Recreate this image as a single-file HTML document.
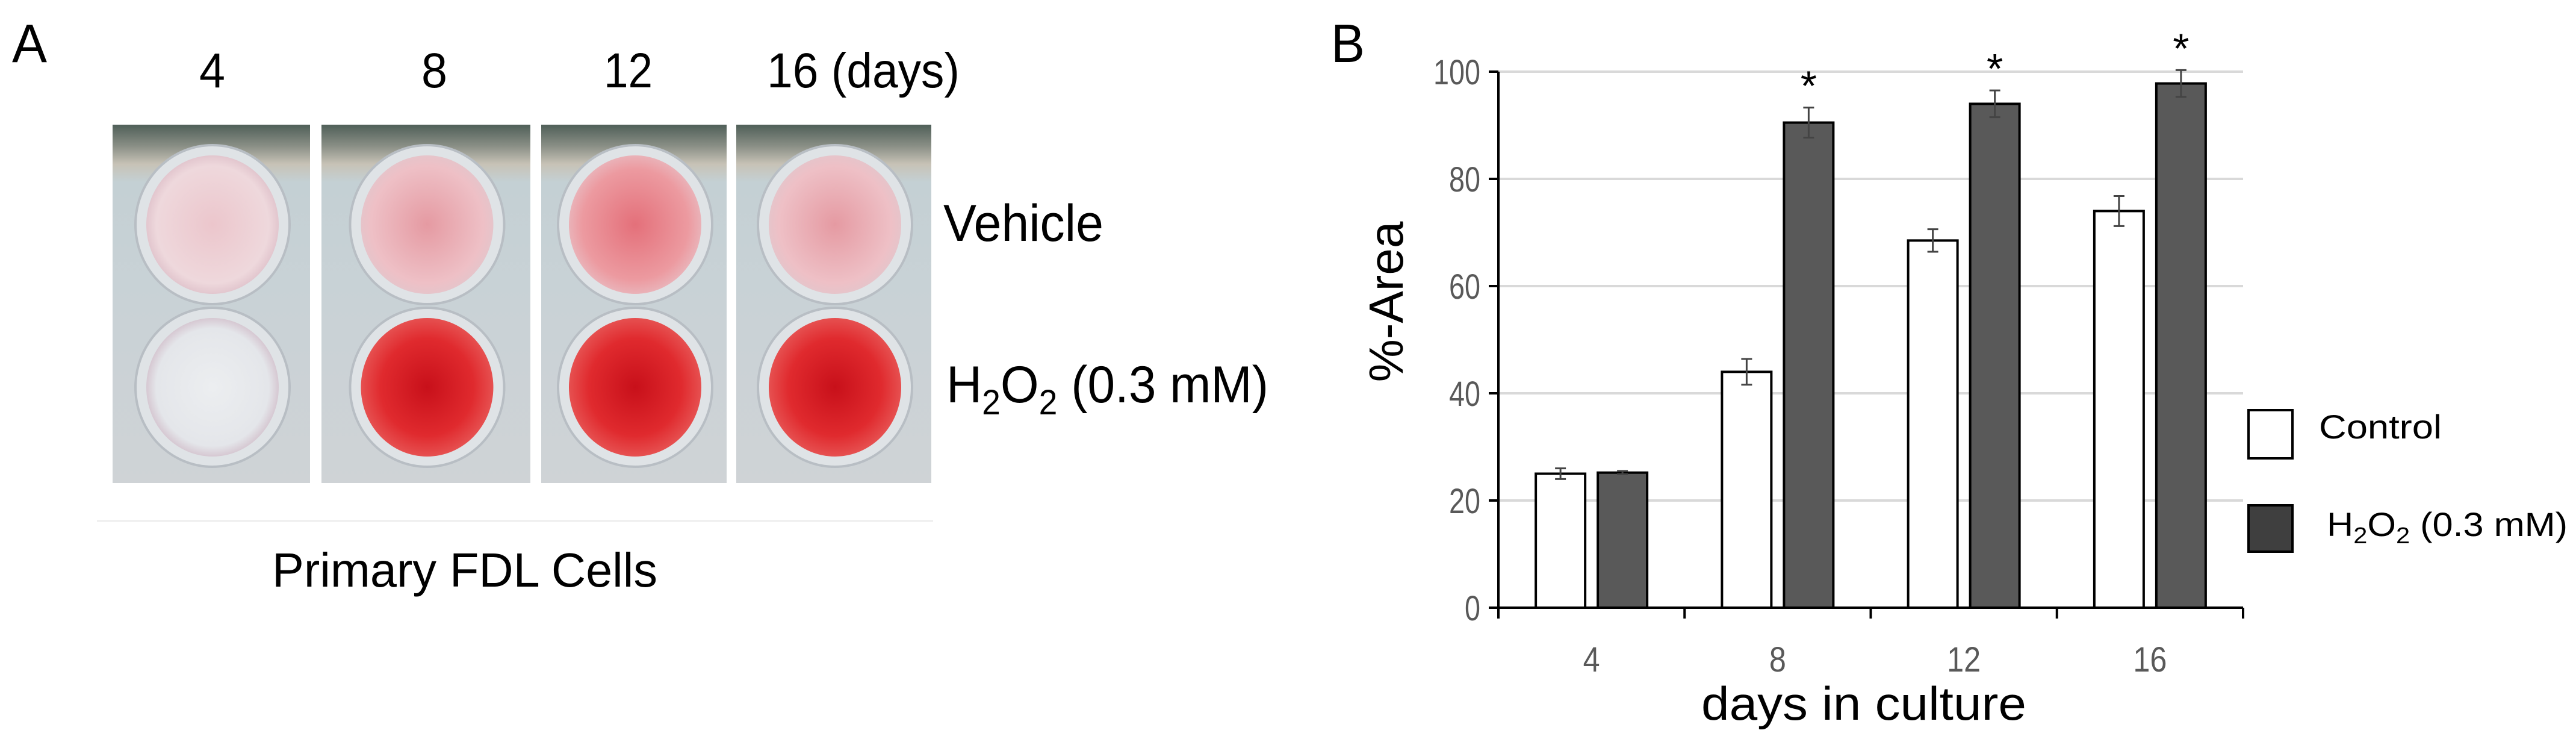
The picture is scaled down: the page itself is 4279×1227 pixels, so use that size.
<!DOCTYPE html>
<html><head><meta charset="utf-8">
<style>
html,body{margin:0;padding:0;background:#fff;}
svg{display:block;}
text{font-family:"Liberation Sans",sans-serif;}
</style></head>
<body>
<svg id="fig" width="4279" height="1227" viewBox="0 0 4279 1227" xmlns="http://www.w3.org/2000/svg">
<defs>
  <linearGradient id="plateBg" x1="0" y1="0" x2="0" y2="1">
    <stop offset="0" stop-color="#4f5f58"/>
    <stop offset="0.06" stop-color="#8a8f86"/>
    <stop offset="0.11" stop-color="#c7c2b6"/>
    <stop offset="0.16" stop-color="#c4d0d4"/>
    <stop offset="0.5" stop-color="#c9d2d6"/>
    <stop offset="1" stop-color="#cfd3d6"/>
  </linearGradient>
  <radialGradient id="wellEmpty" cx="0.5" cy="0.5" r="0.5">
    <stop offset="0" stop-color="#eceef0"/><stop offset="0.85" stop-color="#e4e6ea"/><stop offset="1" stop-color="#d6c8d2"/>
  </radialGradient>
  <radialGradient id="wellLight" cx="0.5" cy="0.5" r="0.5">
    <stop offset="0" stop-color="#ecc6cc"/><stop offset="0.85" stop-color="#eed8dc"/><stop offset="1" stop-color="#e2c6ce"/>
  </radialGradient>
  <radialGradient id="wellMed" cx="0.5" cy="0.5" r="0.5">
    <stop offset="0" stop-color="#e4707a"/><stop offset="0.8" stop-color="#ec9aa0"/><stop offset="1" stop-color="#eab2b8"/>
  </radialGradient>
  <radialGradient id="wellMed2" cx="0.5" cy="0.5" r="0.5">
    <stop offset="0" stop-color="#e59aa2"/><stop offset="0.85" stop-color="#eec0c6"/><stop offset="1" stop-color="#e6c4ca"/>
  </radialGradient>
  <radialGradient id="wellRed" cx="0.5" cy="0.5" r="0.5">
    <stop offset="0" stop-color="#c8101a"/><stop offset="0.7" stop-color="#e02a2e"/><stop offset="1" stop-color="#e65050"/>
  </radialGradient>
</defs>

<!-- Panel A -->
<text x="20" y="103" font-size="90" textLength="58" lengthAdjust="spacingAndGlyphs" fill="#000">A</text>
<g font-size="82" fill="#000">
  <text x="331" y="145" textLength="43" lengthAdjust="spacingAndGlyphs">4</text>
  <text x="700" y="145" textLength="43" lengthAdjust="spacingAndGlyphs">8</text>
  <text x="1003" y="145" textLength="81" lengthAdjust="spacingAndGlyphs">12</text>
  <text x="1274" y="145" textLength="320" lengthAdjust="spacingAndGlyphs">16 (days)</text>
</g>
<g id="plates"></g>
<text x="1567" y="400" font-size="86" textLength="266" lengthAdjust="spacingAndGlyphs">Vehicle</text>
<text x="1572" y="668" font-size="86" textLength="535" lengthAdjust="spacingAndGlyphs">H<tspan font-size="58" dy="20">2</tspan><tspan dy="-20">O</tspan><tspan font-size="58" dy="20">2</tspan><tspan dy="-20"> (0.3 mM)</tspan></text>
<line x1="161" y1="865" x2="1550" y2="865" stroke="#eeeeee" stroke-width="3"/>
<text x="452" y="974" font-size="80" textLength="640" lengthAdjust="spacingAndGlyphs">Primary FDL Cells</text>

<!-- Panel B -->
<text x="2211" y="103" font-size="90" textLength="56" lengthAdjust="spacingAndGlyphs" fill="#000">B</text>
<g id="chart"></g>
<text transform="translate(2330,501) rotate(-90)" font-size="80" text-anchor="middle" fill="#000">%-Area</text>
<text x="3096" y="1195" font-size="78" text-anchor="middle" textLength="540" lengthAdjust="spacingAndGlyphs" fill="#000">days in culture</text>
<g>
  <rect x="3735" y="681" width="73" height="80" fill="#fff" stroke="#000" stroke-width="4"/>
  <text x="3852" y="728" font-size="56" textLength="204" lengthAdjust="spacingAndGlyphs">Control</text>
  <rect x="3735" y="839" width="73" height="77" fill="#3f3f3f" stroke="#000" stroke-width="4"/>
  <text x="3865" y="890" font-size="56" textLength="400" lengthAdjust="spacingAndGlyphs">H<tspan font-size="38" dy="12">2</tspan><tspan dy="-12">O</tspan><tspan font-size="38" dy="12">2</tspan><tspan dy="-12"> (0.3 mM)</tspan></text>
</g>
</svg>
<script>
const categories = ["4","8","12","16"];
const controlValues = [25, 44, 68.5, 74];
const controlErrors = [1, 2.4, 2.1, 2.8];
const h2o2Values = [25.2, 90.5, 94, 97.8];
const h2o2Errors = [0.3, 2.8, 2.5, 2.5];
const significant = [false, true, true, true];
const yTicks = [0, 20, 40, 60, 80, 100];

const NS = "http://www.w3.org/2000/svg";
function mk(tag, attrs, parent){const e=document.createElementNS(NS,tag);for(const k in attrs)e.setAttribute(k,attrs[k]);parent.appendChild(e);return e;}

// plates
const plates = document.getElementById('plates');
const panels = [[187,515],[534,881],[899,1207],[1223,1547]];
const topFill = ["wellLight","wellMed2","wellMed","wellMed2"];
const botFill = ["wellEmpty","wellRed","wellRed","wellRed"];
panels.forEach((p,i)=>{
  const g = mk('g',{},plates);
  
  
  mk('rect',{x:p[0],y:207,width:p[1]-p[0],height:595,fill:'url(#plateBg)'},g);
  const cx = (p[0]+p[1])/2 + 2;
  [[373,topFill[i],'top'],[643,botFill[i],'bottom']].forEach(w=>{
    mk('ellipse',{cx:cx,cy:w[0],rx:128,ry:132,fill:'#dfe3e6',stroke:'#b8bec4','stroke-width':4},g);
    const well = mk('ellipse',{cx:cx,cy:w[0],rx:110,ry:115,fill:'url(#'+w[1]+')'},g);
    
    
  });
});

// chart
const chart = document.getElementById('chart');
const X0 = 2489, X1 = 3726, Y0 = 1009, Y100 = 119;
const catW = (X1-X0)/categories.length;
const yScale = v => Y0 - (Y0-Y100)*v/100;
const xCat = i => X0 + catW*i;
const barW = 82, gap = 21;

yTicks.forEach(t=>{
  const y = yScale(t);
  if(t>0){
    const gl = mk('line',{x1:X0,x2:X1,y1:y,y2:y,stroke:'#d9d9d9','stroke-width':4},chart);
    
    
  }
  mk('line',{x1:X0-16,x2:X0,y1:y,y2:y,stroke:'#000','stroke-width':4},chart);
  const tl = mk('text',{x:X0-30,y:y+21,'font-size':58,'text-anchor':'end',fill:'#595959',textLength:String(t).length*26,lengthAdjust:'spacingAndGlyphs'},chart);
  tl.textContent = t;
  
  
});

function bar(x,v,e,fill,name){
  const y = yScale(v);
  const r = mk('rect',{x:x,y:y,width:barW,height:Y0-y,fill:fill,stroke:'#000','stroke-width':4},chart);
  
  
  const cx = x+barW/2, yt = yScale(v+e), yb = yScale(v-e);
  const eb = mk('path',{d:`M${cx},${yt}V${yb}M${cx-9},${yt}H${cx+9}M${cx-9},${yb}H${cx+9}`,stroke:'#444','stroke-width':3,fill:'none'},chart);
  
  
  return yt;
}
categories.forEach((c,i)=>{
  const mid = xCat(i)+catW/2;
  bar(mid-gap/2-barW, controlValues[i], controlErrors[i], '#fff', 'bar-control-'+c);
  const yt = bar(mid+gap/2, h2o2Values[i], h2o2Errors[i], '#595959', 'bar-h2o2-'+c);
  if(significant[i]){
    const s = mk('text',{x:mid+gap/2+barW/2,y:yt-12,'font-size':70,'text-anchor':'middle',fill:'#000'},chart);
    s.textContent='*';
    
    
  }
  const tl = mk('text',{x:mid,y:1115,'font-size':58,'text-anchor':'middle',fill:'#595959',textLength:c.length*28,lengthAdjust:'spacingAndGlyphs'},chart);
  tl.textContent = c;
  
  
});
for(let i=0;i<=categories.length;i++){
  mk('line',{x1:xCat(i),x2:xCat(i),y1:Y0,y2:Y0+18,stroke:'#000','stroke-width':4},chart);
}
const ya = mk('line',{x1:X0,x2:X0,y1:Y100,y2:Y0,stroke:'#000','stroke-width':4},chart);


const xa = mk('line',{x1:X0,x2:X1,y1:Y0,y2:Y0,stroke:'#000','stroke-width':4},chart);


</script>
</body></html>
